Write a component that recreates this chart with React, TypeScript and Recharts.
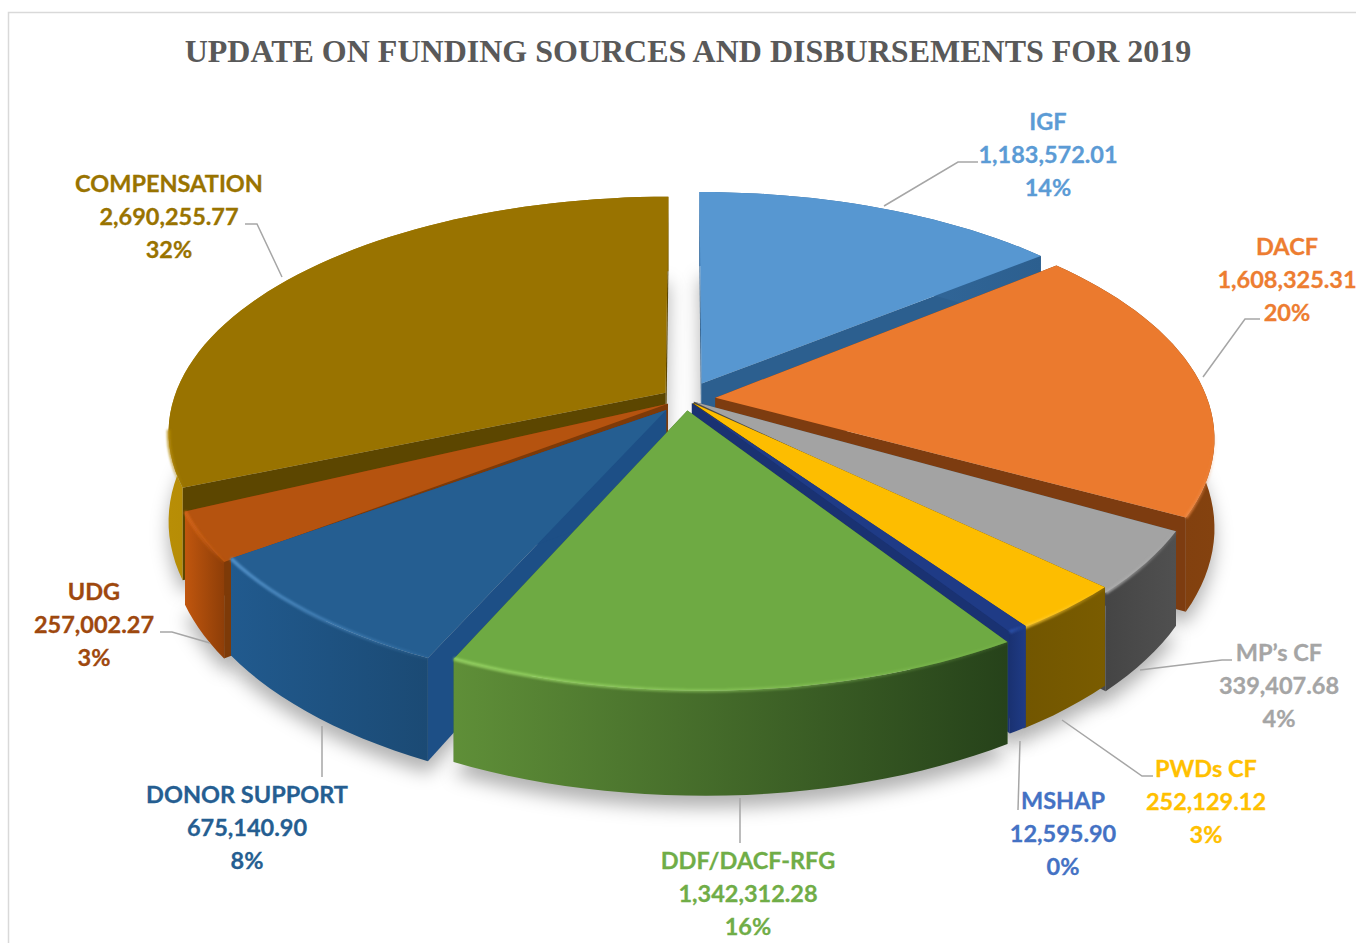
import { Pie, PieChart } from 'recharts';

const CATEGORIES = ['IGF', 'DACF', "MP’s CF", 'PWDs CF', 'MSHAP', 'DDF/DACF-RFG', 'DONOR SUPPORT', 'UDG', 'COMPENSATION'];
const VALUES = [1183572.01, 1608325.31, 339407.68, 252129.12, 12595.9, 1342312.28, 675140.9, 257002.27, 2690255.77];
const VALUE_LABELS = ['1,183,572.01', '1,608,325.31', '339,407.68', '252,129.12', '12,595.90', '1,342,312.28', '675,140.90', '257,002.27', '2,690,255.77'];
const PERCENT_LABELS = ['14%', '20%', '4%', '3%', '0%', '16%', '8%', '3%', '32%'];
const TITLE = 'UPDATE ON FUNDING SOURCES AND DISBURSEMENTS FOR 2019';

// back slices first, so the nearer ones cover them
const DRAW_ORDER = ['IGF', 'COMPENSATION', 'DACF', 'UDG', "MP’s CF", 'DONOR SUPPORT', 'PWDs CF', 'MSHAP', 'DDF/DACF-RFG'];

// dx, dy nudge the outer edge of a slice, the tip stays where it is
const STYLES: Record<string, { top: string; rim: string; side: string; wallA: string; wallB: string; label: string; explode: number; dx: number; dy: number }> = {
  IGF: { top: '#5797d1', rim: '#7fb6e6', side: '#2c5f8f', wallA: '#3a72a8', wallB: '#2c5f8f', label: '#5b9bd5', explode: 0.075, dx: 0, dy: 2 },
  DACF: { top: '#eb7a2e', rim: '#f08a45', side: '#7d3c10', wallA: '#7a3a0e', wallB: '#84420f', label: '#ed7d31', explode: 0.06, dx: 0, dy: 0 },
  "MP’s CF": { top: '#a3a3a3', rim: '#b0b0b0', side: '#4a4a4a', wallA: '#454545', wallB: '#505050', label: '#a5a5a5', explode: 0.02, dx: 12, dy: 9 },
  'PWDs CF': { top: '#fdbd00', rim: '#ffcb33', side: '#5f4700', wallA: '#725600', wallB: '#7a5c00', label: '#ffc000', explode: 0.022, dx: 12, dy: 2 },
  MSHAP: { top: '#1f3b86', rim: '#2f55b0', side: '#1a3272', wallA: '#1a3272', wallB: '#1f3b86', label: '#4472c4', explode: 0.022, dx: 15, dy: 0 },
  'DDF/DACF-RFG': { top: '#6eaa43', rim: '#9ad766', side: '#3f6a28', wallA: '#5f8f38', wallB: '#26421a', label: '#70ad47', explode: 0.05, dx: 16, dy: 0 },
  'DONOR SUPPORT': { top: '#255e91', rim: '#5a9ad2', side: '#1d4f86', wallA: '#215a8e', wallB: '#1b4a74', label: '#255e91', explode: 0.062, dx: 15, dy: 0 },
  UDG: { top: '#b5530f', rim: '#d8681a', side: '#7d3a08', wallA: '#c0560e', wallB: '#8e3e08', label: '#9e480e', explode: 0.042, dx: 4, dy: 11 },
  COMPENSATION: { top: '#997300', rim: '#b58c10', side: '#5c4600', wallA: '#b88e06', wallB: '#8a6800', label: '#997300', explode: 0.05, dx: 0, dy: 0 },
};

// label anchor (centre x, first line centre y) and leader line per slice
const LABEL_LAYOUT: Record<string, { x: number; y: number; leader: number[][] }> = {
  IGF: { x: 1048, y: 122, leader: [[978, 162], [958, 162], [884, 206]] },
  DACF: { x: 1287, y: 247, leader: [[1260, 319], [1245, 319], [1203, 377]] },
  "MP’s CF": { x: 1279, y: 653, leader: [[1232, 660], [1222, 660], [1140, 670]] },
  'PWDs CF': { x: 1206, y: 769, leader: [[1153, 776], [1142, 776], [1062, 720]] },
  MSHAP: { x: 1063, y: 801, leader: [[1018, 810], [1020, 741]] },
  'DDF/DACF-RFG': { x: 748, y: 861, leader: [[740, 843], [740, 798]] },
  'DONOR SUPPORT': { x: 247, y: 795, leader: [[322, 777], [322, 726]] },
  UDG: { x: 94, y: 592, leader: [[160, 632], [172, 632], [210, 643]] },
  COMPENSATION: { x: 169, y: 184, leader: [[245, 224], [257, 224], [282, 277]] },
};

const WIDTH = 1356;
const HEIGHT = 943;
const CX = 686;
const CY = 399;
const RX = 492; // horizontal radius of the pie plane
const RY = 230;
const TILT = 0.164; // how much nearer points grow
const DEPTH = 87;

const data = CATEGORIES.map((name, i) => ({ name, value: VALUES[i] }));

const fmt = (p: number[]) => `${p[0].toFixed(1)},${p[1].toFixed(1)}`;

// plane coordinates (u right, v towards the viewer, radius 1) to screen
function project(u: number, v: number, h = 0) {
  const w = 1 - TILT * v;
  return [CX + (RX * u) / w, CY + (RY * v + DEPTH * h) / w];
}

function sliceGeometry(startAngle: number, endAngle: number, name: string) {
  const { explode, dx, dy } = STYLES[name];
  const mid = ((startAngle + endAngle) / 2) * (Math.PI / 180);
  const ox = Math.cos(mid) * explode;
  const oy = -Math.sin(mid) * explode;
  const steps = Math.max(2, Math.ceil(Math.abs(endAngle - startAngle) / 2));
  const arc = (h: number) => {
    const pts: number[][] = [];
    for (let i = 0; i <= steps; i++) {
      const a = (startAngle + ((endAngle - startAngle) * i) / steps) * (Math.PI / 180);
      const p = project(ox + Math.cos(a), oy - Math.sin(a), h);
      pts.push([p[0] + dx, p[1] + dy]);
    }
    return pts;
  };
  return {
    tip: project(ox, oy),
    tipLow: project(ox, oy, 1),
    rim: arc(0),
    low: arc(1),
  };
}

const poly = (pts: number[][]) => 'M' + pts.map(fmt).join('L') + 'Z';
const line = (pts: number[][]) => 'M' + pts.map(fmt).join('L');

function shadowShape(props: any) {
  const g = sliceGeometry(props.startAngle, props.endAngle, props.name);
  return <path d={poly([g.tipLow, ...g.low])} transform="translate(0,12)" fill="#000" fillOpacity={0.3} filter="url(#pieShadow)" />;
}

function sliceShape(only: string) {
  return (props: any) => {
    if (props.name !== only) return <g />;
    const s = STYLES[only];
    const g = sliceGeometry(props.startAngle, props.endAngle, only);
    const i = CATEGORIES.indexOf(only);
    const first = g.rim[0];
    const last = g.rim[g.rim.length - 1];
    // only the rim facing the viewer catches the light
    const frontRim = g.rim.filter((p) => p[1] > CY + 30);
    return (
      <g>
        <path d={poly([g.tip, g.tipLow, g.low[0], first])} fill={s.side} />
        <path d={poly([g.tip, g.tipLow, g.low[g.low.length - 1], last])} fill={s.side} />
        <path d={poly([...g.rim, ...[...g.low].reverse()])} fill={`url(#wall${i})`} />
        <path d={poly([g.tip, ...g.rim])} fill={s.top} />
        {frontRim.length > 1 && (
          <path d={line(frontRim)} fill="none" stroke={`url(#rim${i})`} strokeWidth={3.5} filter="url(#rimSoft)" />
        )}
      </g>
    );
  };
}

function SliceLabel(props: any) {
  const name = props.name;
  const layout = LABEL_LAYOUT[name];
  const i = CATEGORIES.indexOf(name);
  const color = STYLES[name].label;
  return (
    <g>
      <polyline points={layout.leader.map(fmt).join(' ')} fill="none" stroke="#a6a6a6" strokeWidth={1.5} />
      {[name, VALUE_LABELS[i], PERCENT_LABELS[i]].map((t, n) => (
        <text
          key={n}
          x={layout.x}
          y={layout.y + n * 33}
          dy={8}
          textAnchor="middle"
          fill={color}
          stroke={color}
          strokeWidth={0.3}
          fontFamily="Lato"
          fontWeight={700}
          fontSize={23.5}
        >
          {t}
        </text>
      ))}
    </g>
  );
}

export default function App() {
  return (
    <div style={{ position: 'absolute', left: 0, top: 0, width: WIDTH, height: HEIGHT, background: '#fff', overflow: 'hidden' }}>
      <PieChart width={WIDTH} height={HEIGHT} margin={{ top: 0, right: 0, bottom: 0, left: 0 }}>
        <defs>
          <filter id="pieShadow" x="-20%" y="-20%" width="140%" height="140%">
            <feGaussianBlur stdDeviation="9" />
          </filter>
          <filter id="rimSoft" x="0" y="0" width="1356" height="943" filterUnits="userSpaceOnUse">
            <feGaussianBlur stdDeviation="1.2" />
          </filter>
          {CATEGORIES.map((name, i) => (
            <linearGradient key={name} id={'wall' + i} x1="0" y1="0" x2="1" y2="0">
              <stop offset="0%" stopColor={STYLES[name].wallA} />
              <stop offset="100%" stopColor={STYLES[name].wallB} />
            </linearGradient>
          ))}
          {CATEGORIES.map((name, i) => (
            <linearGradient key={name} id={'rim' + i} x1="0" y1="0" x2="1" y2="0">
              <stop offset="0%" stopColor={STYLES[name].rim} stopOpacity={0.85} />
              <stop offset="100%" stopColor={STYLES[name].rim} stopOpacity={0.1} />
            </linearGradient>
          ))}
        </defs>
        <rect x={8.5} y={12.5} width={1400} height={1000} fill="#fff" stroke="#d9d9d9" strokeWidth={1.5} />
        <text x={688} y={62} textAnchor="middle" fill="#595959" fontFamily="Liberation Serif" fontWeight={700} fontSize={32}>
          {TITLE}
        </text>
        <Pie
          data={data}
          dataKey="value"
          nameKey="name"
          cx={CX}
          cy={CY}
          outerRadius={RX}
          startAngle={90}
          endAngle={-270}
          minAngle={1.5}
          stroke="none"
          isAnimationActive={false}
          shape={shadowShape}
        />
        {DRAW_ORDER.map((name) => (
          <Pie
            key={name}
            data={data}
            dataKey="value"
            nameKey="name"
            cx={CX}
            cy={CY}
            outerRadius={RX}
            startAngle={90}
            endAngle={-270}
            minAngle={1.5}
            stroke="none"
            isAnimationActive={false}
            shape={sliceShape(name)}
          />
        ))}
        <Pie
          data={data}
          dataKey="value"
          nameKey="name"
          cx={CX}
          cy={CY}
          outerRadius={RX}
          startAngle={90}
          endAngle={-270}
          minAngle={1.5}
          stroke="none"
          isAnimationActive={false}
          shape={() => <g />}
          label={SliceLabel}
          labelLine={false}
        />
      </PieChart>
    </div>
  );
}
